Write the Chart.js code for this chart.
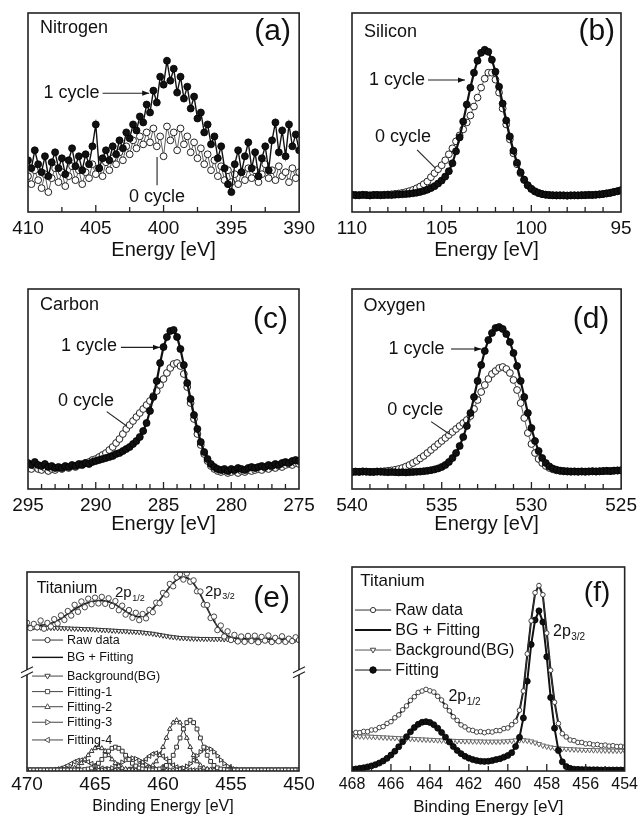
<!DOCTYPE html>
<html>
<head>
<meta charset="utf-8">
<script src="https://cdn.jsdelivr.net/npm/chart.js@4.4.0/dist/chart.umd.min.js"></script>
<style>
  html, body { margin: 0; padding: 0; background: #fff; overflow: hidden; width: 644px; height: 815px; }
  canvas { position: absolute; }
</style>
</head>
<body>
<canvas id="cA" width="322" height="262" style="left:0;top:0"></canvas>
<canvas id="cB" width="322" height="262" style="left:322px;top:0"></canvas>
<canvas id="cC" width="322" height="280" style="left:0;top:262px"></canvas>
<canvas id="cD" width="322" height="280" style="left:322px;top:262px"></canvas>
<canvas id="cE" width="322" height="277" style="left:0;top:540px"></canvas>
<canvas id="cF" width="322" height="277" style="left:322px;top:540px"></canvas>
<script>
const FONT = '"Liberation Sans", Arial, Helvetica, sans-serif';

// energy sampling of each scan (start, step, number of channels)
const grid = (start, step, n) => Array.from({ length: n }, (_, i) => +(start - step * i).toFixed(2));

// (a) Nitrogen, intensity in % of panel height
const nEnergy = grid(410, 0.25, 81);
const n1Cycle = [26,22,31,24,20,28,18,25,30,22,27,19,26,32,23,28,21,29,24,33,44,22,27,31,26,33,29,36,32,40,37,44,41,48,45,54,50,61,55,68,64,76,66,72,60,68,57,63,52,58,47,50,40,44,34,38,27,33,22,14,10,24,31,20,28,35,22,30,18,27,33,21,36,45,30,41,28,44,33,39,31];
const n0Cycle = [18,14,21,16,12,19,10,17,22,15,20,13,18,23,16,21,14,20,17,24,19,22,18,25,21,27,24,30,26,33,29,36,32,38,34,40,35,42,33,38,28,43,36,40,31,42,34,38,30,35,27,32,24,29,21,26,18,23,16,21,15,19,14,20,16,22,17,21,15,19,24,17,21,16,23,18,20,15,22,17,20];

// (b) Silicon
const siEnergy = grid(110, 0.2, 76);
const si1Cycle = [8.7,8.5,8.4,8.6,8.5,8.3,8.5,8.6,8.4,8.5,8.6,8.5,8.7,8.8,8.9,9.0,9.2,9.4,9.7,10.1,10.6,11.2,12.0,13.0,14.3,15.8,17.8,20.5,24.5,30.5,37.5,45.5,54,62.5,70,76,80,81.5,80.5,76.5,70.5,63,54.5,46,38,30.8,24.8,20,16.3,13.5,11.7,10.4,9.6,9.0,8.7,8.5,8.4,8.3,8.4,8.3,8.2,8.3,8.4,8.3,8.4,8.5,8.6,8.5,8.7,8.8,9.0,9.3,9.6,10.0,10.4,10.9];
const si0Cycle = [8.6,8.4,8.5,8.7,8.5,8.4,8.6,8.5,8.6,8.7,8.8,8.9,9.1,9.3,9.6,10.0,10.5,11.1,11.9,12.8,14.0,15.3,17.5,19.5,21.5,23.5,26,29,32,35.5,38.5,41.5,45,48.5,53,57.5,62.5,67,70,70,66.5,60,52,44,36.5,29.5,24,19.5,16,13.3,11.5,10.3,9.5,9.0,8.7,8.5,8.4,8.4,8.3,8.4,8.3,8.4,8.3,8.4,8.5,8.4,8.6,8.6,8.7,8.9,9.1,9.4,9.7,10.1,10.5,11.0];

// (c) Carbon
const cEnergy = grid(295, 0.25, 81);
const c1Cycle = [13,12,13.5,12,11.5,12.5,11,11.5,10.5,11,10.5,11.5,11,12,11.5,12.5,12,13,12.5,13.5,14,14.5,15,15.5,16,16.5,17.5,18,19,20,21,22.5,24,26,29,33,39,46,54,63,71,76,79,79.5,76,70,62,53,45,37,30,23.5,18.5,15,12.5,11,10,9.5,10,9,10,9.5,10.5,10,9.5,10.5,11,10.5,11,11.5,11,12,11.5,12.5,12,13,13.5,13,14,14.5,14];
const c0Cycle = [11,10,11.5,10,9.5,10.5,9,10,9.5,10.5,10,11,10.5,11.5,11,12,12.5,13,13.5,14.5,15,16,17,18,19.5,21,23,25,27.5,30,32,34,36,38,40,42,44,46.5,49,52,55,58,60.5,62.5,63,61.5,57.5,51,43,35,27.5,22,17.5,14,11.5,10,9,8.5,9,8,8.5,9,8,9,8.5,9.5,9,9.5,10,9.5,10.5,10,11,10.5,11.5,11,12,12.5,12,13,12.5];

// (d) Oxygen
const oEnergy = grid(540, 0.2, 76);
const o1Cycle = [8.5,8.7,8.6,8.8,8.7,8.6,8.5,8.7,8.6,8.5,8.4,8.5,8.4,8.3,8.4,8.3,8.4,8.5,8.6,8.7,8.9,9.1,9.4,9.8,10.3,11,12,13.5,15.5,18,21.5,26,31.5,38,46,54,62,69,74.5,78,80.5,81,80,77.5,73.5,68,61.5,54,46,38,30.5,24,19,15.5,13,11.3,10.2,9.6,9.2,9.0,8.9,8.8,8.8,8.7,8.8,8.7,8.8,8.9,8.8,8.9,9.0,9.1,9.0,9.2,9.3,9.4];
const o0Cycle = [8.4,8.6,8.5,8.7,8.6,8.5,8.6,8.7,8.8,8.9,9.1,9.3,9.6,10.0,10.5,11.2,12,13,14,15.3,16.5,18,19.5,21,22.5,24,25.5,27,28.5,30,31.5,33,34.5,36.5,40,44.5,48.5,52,55,57.5,59,60.5,61,60,58,54.5,49.5,43,35.5,28,22.5,18,15,13,11.5,10.5,9.8,9.3,9.0,8.8,8.7,8.6,8.7,8.6,8.7,8.6,8.7,8.8,8.7,8.8,8.9,9.0,8.9,9.1,9.2,9.3];

// (e) Titanium, broken axis: upper block = raw / BG, lower block = fitted components
const tiEnergyE = grid(470, 0.25, 81);
const tiRawE = [74.5,71.8,73.9,72.2,75.6,71.5,74.4,72.6,76.3,74.1,78.2,75.9,80.4,78.1,83.5,80.0,85.2,82.3,86.6,83.8,87.1,84.2,87.5,84.0,86.8,82.9,85.4,80.8,83.1,78.6,80.9,77.0,79.5,75.8,78.9,76.7,81.0,79.8,84.6,84.3,89.5,88.6,94.0,92.8,97.3,98.9,96.2,99.3,95.1,95.8,90.3,90.2,83.6,83.4,76.9,77.6,70.8,73.1,67.6,70.2,65.8,68.4,65.1,67.6,64.9,67.9,65.3,68.0,64.7,67.4,65.5,68.1,64.8,66.9,65.2,67.7,64.9,66.5,65.3,67.2,65.8];
const tiBgFitE = [73.0,73.0,73.1,73.2,73.3,73.5,73.8,74.2,74.8,75.6,76.6,77.8,79.0,80.2,81.3,82.3,83.2,84.0,84.6,85.1,85.4,85.6,85.6,85.4,85.0,84.4,83.6,82.6,81.5,80.3,79.2,78.3,77.7,77.5,77.8,78.6,79.9,81.6,83.6,85.8,88.1,90.4,92.6,94.5,96.0,97.0,97.4,97.1,96.0,94.2,91.7,88.6,85.2,81.7,78.3,75.3,72.7,70.6,69.0,67.9,67.2,66.8,66.6,66.5,66.4,66.4,66.3,66.3,66.3,66.2,66.2,66.2,66.2,66.1,66.1,66.1,66.1,66.0,66.0,66.0,66.0];
const tiBgE = [72.3,72.2,72.2,72.1,72.1,72.0,72.0,71.9,71.9,71.8,71.8,71.7,71.7,71.6,71.5,71.5,71.4,71.3,71.3,71.2,71.1,71.0,70.9,70.8,70.7,70.6,70.5,70.4,70.3,70.2,70.1,70.0,69.9,69.8,69.6,69.4,69.2,69.0,68.7,68.4,68.1,67.8,67.5,67.3,67.1,66.9,66.8,66.7,66.6,66.5,66.5,66.4,66.4,66.4,66.3,66.3,66.3,66.3,66.2,66.2,66.2,66.2,66.2,66.1,66.1,66.1,66.1,66.1,66.1,66.0,66.0,66.0,66.0,66.0,66.0,66.0,66.0,66.0,66.0,66.0,66.0];
const tiFit1E = [0.5,0.5,0.5,0.5,0.5,0.5,0.5,0.5,0.5,0.5,0.5,0.5,0.5,0.5,0.5,0.5,0.5,0.7,1.0,1.5,2.5,3.9,5.8,7.9,10,11.4,12,11.4,10,7.9,5.8,3.9,2.5,1.5,1.0,0.7,0.6,0.5,0.7,1.0,1.6,2.8,4.8,7.9,12,16.6,21.1,24.3,25.5,24.3,21.1,16.6,12,7.9,4.8,2.8,1.6,1.0,0.7,0.5,0.5,0.5,0.5,0.5,0.5,0.5,0.5,0.5,0.5,0.5,0.5,0.5,0.5,0.5,0.5,0.5,0.5,0.5,0.5,0.5,0.5];
const tiFit2E = [0.5,0.5,0.5,0.5,0.5,0.5,0.5,0.5,0.5,0.5,0.5,0.5,0.7,1.0,1.5,2.5,3.9,5.8,7.9,10,11.4,12,11.4,10,7.9,5.8,3.9,2.5,1.5,1.0,0.7,0.6,0.5,0.5,0.7,1.0,1.6,2.8,4.8,7.9,12,16.6,21.1,24.3,25.5,24.3,21.1,16.6,12,7.9,4.8,2.8,1.6,1.0,0.7,0.5,0.5,0.5,0.5,0.5,0.5,0.5,0.5,0.5,0.5,0.5,0.5,0.5,0.5,0.5,0.5,0.5,0.5,0.5,0.5,0.5,0.5,0.5,0.5,0.5,0.5];
const tiFit3E = [0.5,0.5,0.5,0.5,0.5,0.5,0.5,0.5,0.5,0.5,0.5,0.5,0.5,0.5,0.5,0.5,0.5,0.5,0.5,0.5,0.5,0.5,0.6,0.8,1.05,1.5,2.3,3.2,4.4,5.4,6.2,6.5,6.2,5.4,4.4,3.2,2.3,1.5,1.05,0.8,0.6,0.5,0.5,0.5,0.7,1.0,1.5,2.4,3.7,5.5,7.6,9.6,11,11.5,11,9.6,7.6,5.5,3.7,2.4,1.5,1.0,0.7,0.5,0.5,0.5,0.5,0.5,0.5,0.5,0.5,0.5,0.5,0.5,0.5,0.5,0.5,0.5,0.5,0.5,0.5];
const tiFit4E = [0.5,0.5,0.5,0.5,0.5,0.5,0.5,0.6,0.7,1.0,1.4,2.0,2.8,3.7,4.6,5.3,5.5,5.3,4.6,3.7,2.8,2.0,1.4,1.0,0.7,0.6,0.5,0.5,0.5,0.7,0.9,1.3,2.0,3.0,4.4,6.0,7.5,8.6,9.0,8.6,7.5,6.0,4.4,3.0,2.0,1.3,0.9,0.7,0.5,0.5,0.5,0.5,0.5,0.5,0.5,0.5,0.5,0.5,0.5,0.5,0.5,0.5,0.5,0.5,0.5,0.5,0.5,0.5,0.5,0.5,0.5,0.5,0.5,0.5,0.5,0.5,0.5,0.5,0.5,0.5,0.5];

// (f) Titanium
const tiEnergyF = grid(468, 0.2, 71);
const tiRawF = [18.3,18.9,18.8,19.4,19.3,20.1,20.2,21.3,21.8,23.3,24.2,26.1,27.5,30.0,31.9,34.6,36.4,38.5,39.2,40.0,39.3,38.7,36.6,34.8,31.8,29.5,26.6,24.8,22.6,21.6,20.2,19.9,19.1,19.3,18.8,19.3,19.1,19.8,19.8,20.8,21.1,22.7,24.4,29.8,39.2,57.4,73.6,87.4,90.9,86.4,67.6,49.4,33.7,23.3,18.3,16.7,15.2,14.9,14.0,14.0,13.3,13.4,12.8,13.0,12.5,12.7,12.2,12.4,12.0,12.1,11.8];
const tiBgFitF = [18.6,18.8,19.0,19.2,19.5,19.9,20.4,21.1,22.0,23.1,24.4,25.9,27.7,29.8,32.1,34.4,36.6,38.3,39.4,39.8,39.5,38.5,36.8,34.6,32.0,29.3,26.8,24.6,22.8,21.4,20.4,19.7,19.3,19.1,19.0,19.1,19.3,19.6,20.0,20.6,21.3,22.5,24.6,29.5,39.5,57,74,87,91.2,86,68,49,34,23,18.5,16.5,15.4,14.7,14.2,13.8,13.5,13.2,13.0,12.8,12.6,12.5,12.3,12.2,12.1,12.0,11.9];
const tiBgF = [17.2,17.1,17.0,16.9,16.9,16.8,16.7,16.6,16.5,16.4,16.3,16.2,16.1,16.0,15.9,15.8,15.7,15.6,15.5,15.4,15.3,15.2,15.1,15.0,14.9,14.9,14.8,14.7,14.7,14.6,14.6,14.5,14.5,14.5,14.4,14.4,14.4,14.4,14.4,14.5,14.6,14.8,15.0,15.1,15.1,14.9,14.5,13.9,13.2,12.5,12.0,11.6,11.3,11.1,10.9,10.8,10.7,10.6,10.5,10.4,10.3,10.3,10.2,10.2,10.1,10.1,10.0,10.0,10.0,9.9,9.9];
const tiFitF = [0.8,1.0,1.3,1.6,2.0,2.5,3.1,3.9,4.9,6.2,7.8,9.7,11.9,14.3,16.8,19.2,21.3,22.9,23.9,24.2,23.8,22.7,21.0,18.9,16.6,14.2,12.0,10.1,8.5,7.2,6.3,5.6,5.1,4.8,4.7,4.8,5.1,5.6,6.0,6.8,7.6,9.0,12.0,16.5,26,44,62,74,78.5,73,56,36,21,10,4.5,2.2,1.3,0.9,0.8,0.7,0.7,0.6,0.6,0.6,0.5,0.5,0.5,0.5,0.5,0.5,0.5];

const pts = (xs, ys) => ys.map((y, i) => ({ x: xs[i], y }));
const series = (xs, ys, o) => Object.assign({ data: pts(xs, ys), showLine: true, clip: 0, pointHoverRadius: 0 }, o);

// filled = 1 cycle (drawn on top), open = 0 cycle
const filledDot = { pointRadius: 3.5, pointBackgroundColor: '#111', pointBorderColor: '#000', pointBorderWidth: 0.8, borderColor: '#111', borderWidth: 2.2, order: 0 };
const openDot = { pointRadius: 3.4, pointBackgroundColor: '#fff', pointBorderColor: '#222', pointBorderWidth: 1, borderColor: '#333', borderWidth: 0.8, order: 1 };

function drawMarker(ctx, m, px, py) {
  ctx.save();
  ctx.translate(px, py);
  ctx.beginPath();
  const r = m.r;
  if (m.style === 'circle') ctx.arc(0, 0, r, 0, Math.PI * 2);
  else if (m.style === 'rect') ctx.rect(-r * 0.75, -r * 0.75, r * 1.5, r * 1.5);
  else {
    ctx.rotate((m.rot || 0) * Math.PI / 180);
    ctx.moveTo(0, -r); ctx.lineTo(r * 0.9, r * 0.6); ctx.lineTo(-r * 0.9, r * 0.6); ctx.closePath();
  }
  ctx.fillStyle = m.fill; ctx.fill();
  ctx.lineWidth = 1; ctx.strokeStyle = m.stroke; ctx.stroke();
  ctx.restore();
}

// frame, inner ticks, labels, arrows and the in-plot legends
function decorations(spec) {
  return {
    id: 'deco',
    afterDatasetsDraw(chart) {
      const { ctx, chartArea: a, scales: { x, y } } = chart;
      const X = v => x.getPixelForValue(v), Y = v => y.getPixelForValue(v);
      ctx.save();
      ctx.strokeStyle = '#222';
      ctx.lineWidth = 1.3;
      x.ticks.forEach(t => {
        const px = X(t.value);
        if (px < a.left + 2 || px > a.right - 2) return;
        const major = Math.abs(t.value % spec.major) < 1e-6;
        ctx.beginPath(); ctx.moveTo(px, a.bottom); ctx.lineTo(px, a.bottom - (major ? 7 : 5)); ctx.stroke();
      });
      ctx.lineWidth = 1.6;
      ctx.strokeRect(a.left, a.top, a.right - a.left, a.bottom - a.top);

      (spec.breaks || []).forEach(b => {
        const px = X(b.x), py = Y(b.y);
        ctx.fillStyle = '#fff';
        ctx.beginPath();
        ctx.moveTo(px - 6, py + 1); ctx.lineTo(px + 6, py - 5); ctx.lineTo(px + 6, py); ctx.lineTo(px - 6, py + 6); ctx.closePath();
        ctx.fill();
        ctx.lineWidth = 1.2;
        ctx.beginPath();
        ctx.moveTo(px - 6, py + 1); ctx.lineTo(px + 6, py - 5);
        ctx.moveTo(px - 6, py + 6); ctx.lineTo(px + 6, py);
        ctx.stroke();
      });

      ctx.fillStyle = '#111';
      ctx.lineWidth = 1.1;
      (spec.lines || []).forEach(l => {
        const x1 = X(l.x1), y1 = Y(l.y1), x2 = X(l.x2), y2 = Y(l.y2);
        ctx.beginPath(); ctx.moveTo(x1, y1); ctx.lineTo(x2, y2); ctx.stroke();
        if (l.head) {
          const ang = Math.atan2(y2 - y1, x2 - x1);
          ctx.save(); ctx.translate(x2, y2); ctx.rotate(ang);
          ctx.beginPath(); ctx.moveTo(0, 0); ctx.lineTo(-7, -2.6); ctx.lineTo(-7, 2.6); ctx.closePath(); ctx.fill();
          ctx.restore();
        }
      });

      const lg = spec.legend;
      if (lg) {
        lg.rows.forEach(r => {
          const py = Y(r.y), x1 = X(lg.x1), x2 = X(lg.x2);
          ctx.strokeStyle = r.color || '#444';
          ctx.lineWidth = r.lw || 1;
          ctx.beginPath(); ctx.moveTo(x1, py); ctx.lineTo(x2, py); ctx.stroke();
          if (r.marker) drawMarker(ctx, r.marker, (x1 + x2) / 2, py);
          ctx.fillStyle = '#111';
          ctx.font = `${lg.size}px ${FONT}`;
          ctx.textAlign = 'left'; ctx.textBaseline = 'middle';
          ctx.fillText(r.text, X(lg.xt), py + 0.5);
        });
      }

      ctx.fillStyle = '#111';
      ctx.textBaseline = 'middle';
      (spec.texts || []).forEach(t => {
        ctx.font = `${t.size}px ${FONT}`;
        ctx.textAlign = t.align || 'left';
        const px = X(t.x), py = Y(t.y);
        ctx.fillText(t.text, px, py);
        if (t.sub) {
          const w = ctx.measureText(t.text).width;
          ctx.font = `${Math.round(t.size * 0.62)}px ${FONT}`;
          ctx.textAlign = 'left';
          ctx.fillText(t.sub, px + w + 0.5, py + t.size * 0.32);
        }
      });
      ctx.restore();
    }
  };
}

function panel(id, area, ax, datasets, spec) {
  const cv = document.getElementById(id);
  return new Chart(cv, {
    type: 'scatter',
    data: { datasets },
    options: {
      responsive: false,
      animation: false,
      devicePixelRatio: 1,
      events: [],
      layout: { padding: { left: area[0], top: area[1], right: cv.width - area[2], bottom: 0 } },
      plugins: { legend: { display: false }, tooltip: { enabled: false } },
      scales: {
        x: {
          type: 'linear', reverse: true, min: ax.min, max: ax.max,
          grid: { display: false, drawTicks: false },
          border: { display: false },
          ticks: {
            stepSize: ax.step, autoSkip: false, maxRotation: 0, color: '#111', padding: ax.tickPad,
            font: { family: FONT, size: ax.tickSize, lineHeight: 1 },
            callback: v => (Math.abs(v % ax.major) < 1e-6 ? String(v) : '')
          },
          title: {
            display: true, text: ax.title, color: '#111',
            font: { family: FONT, size: ax.titleSize, lineHeight: 1 },
            padding: { top: 0, bottom: ax.titlePad }
          },
          afterFit: s => { s.height = cv.height - area[3]; }
        },
        y: { display: false, min: 0, max: 100 }
      }
    },
    plugins: [decorations(Object.assign({ major: ax.major }, spec))]
  });
}

const topAxis = { tickSize: 19, tickPad: 7, titleSize: 20, titlePad: 2, title: 'Energy [eV]', major: 5 };
const midAxis = { tickSize: 19, tickPad: 7, titleSize: 20, titlePad: 8, title: 'Energy [eV]', major: 5 };

panel('cA', [28, 13, 301, 212], Object.assign({ min: 390, max: 410, step: 2.5 }, topAxis), [
  series(nEnergy, n0Cycle, openDot),
  series(nEnergy, n1Cycle, Object.assign({}, filledDot, { borderWidth: 1.4 }))
], {
  texts: [
    { x: 409.12, y: 92.5, text: 'Nitrogen', size: 18 },
    { x: 390.6, y: 90.5, text: '(a)', size: 30, align: 'right' },
    { x: 404.73, y: 59.7, text: '1 cycle', size: 18, align: 'right' },
    { x: 400.48, y: 7.5, text: '0 cycle', size: 18, align: 'center' }
  ],
  lines: [
    { x1: 404.5, y1: 59.7, x2: 401.06, y2: 59.7, head: true },
    { x1: 400.48, y1: 13.5, x2: 400.48, y2: 27.6 }
  ]
});

panel('cB', [30, 13, 299, 212], Object.assign({ min: 95, max: 110, step: 1 }, topAxis), [
  series(siEnergy, si0Cycle, openDot),
  series(siEnergy, si1Cycle, filledDot)
], {
  texts: [
    { x: 109.33, y: 90.5, text: 'Silicon', size: 18 },
    { x: 95.33, y: 90.5, text: '(b)', size: 30, align: 'right' },
    { x: 105.93, y: 66.3, text: '1 cycle', size: 18, align: 'right' },
    { x: 107.16, y: 37.8, text: '0 cycle', size: 18, align: 'center' }
  ],
  lines: [
    { x1: 105.76, y1: 66.3, x2: 103.7, y2: 66.3, head: true },
    { x1: 106.37, y1: 31.2, x2: 105.35, y2: 22 }
  ]
});

panel('cC', [28, 27, 299, 227], Object.assign({ min: 275, max: 295, step: 1 }, midAxis), [
  series(cEnergy, c0Cycle, openDot),
  series(cEnergy, c1Cycle, filledDot)
], {
  texts: [
    { x: 294.11, y: 92, text: 'Carbon', size: 18 },
    { x: 275.81, y: 84.5, text: '(c)', size: 30, align: 'right' },
    { x: 288.43, y: 71.5, text: '1 cycle', size: 18, align: 'right' },
    { x: 290.72, y: 44, text: '0 cycle', size: 18, align: 'center' }
  ],
  lines: [
    { x1: 288.14, y1: 70.8, x2: 285.26, y2: 70.8, head: true },
    { x1: 289.19, y1: 38.7, x2: 287.72, y2: 31.5 }
  ]
});

panel('cD', [30, 27, 302, 227], Object.assign({ min: 525, max: 540, step: 1 }, midAxis), [
  series(oEnergy, o0Cycle, openDot),
  series(oEnergy, o1Cycle, filledDot)
], {
  texts: [
    { x: 539.36, y: 91.5, text: 'Oxygen', size: 18 },
    { x: 525.66, y: 84.5, text: '(d)', size: 30, align: 'right' },
    { x: 534.85, y: 70, text: '1 cycle', size: 18, align: 'right' },
    { x: 536.47, y: 39.5, text: '0 cycle', size: 18, align: 'center' }
  ],
  lines: [
    { x1: 534.48, y1: 70, x2: 532.79, y2: 70, head: true },
    { x1: 535.59, y1: 33.7, x2: 534.58, y2: 27.5 }
  ]
});

const fitStyle = (style, rot) => ({ pointStyle: style, pointRotation: rot, pointRadius: 2.7, pointBackgroundColor: '#fff', pointBorderColor: '#333', pointBorderWidth: 1, borderColor: '#333', borderWidth: 1, order: 3 });

panel('cE', [27, 32, 299, 231], { min: 450, max: 470, step: 5, major: 5, tickSize: 19, tickPad: 4.5, titleSize: 16, titlePad: 2, title: 'Binding Energy [eV]' }, [
  series(tiEnergyE, tiRawE, { pointRadius: 2.7, pointBackgroundColor: '#fff', pointBorderColor: '#333', pointBorderWidth: 0.9, borderColor: '#555', borderWidth: 0.8, order: 0 }),
  series(tiEnergyE, tiBgFitE, { pointRadius: 0, borderColor: '#111', borderWidth: 1.6, order: 1 }),
  series(tiEnergyE, tiBgE, { pointStyle: 'triangle', pointRotation: 180, pointRadius: 2.8, pointBackgroundColor: '#fff', pointBorderColor: '#333', pointBorderWidth: 1, borderColor: '#333', borderWidth: 1.2, order: 2 }),
  series(tiEnergyE, tiFit1E, fitStyle('rect', 0)),
  series(tiEnergyE, tiFit2E, fitStyle('triangle', 0)),
  series(tiEnergyE, tiFit3E, fitStyle('triangle', 90)),
  series(tiEnergyE, tiFit4E, fitStyle('triangle', -90))
], {
  texts: [
    { x: 469.29, y: 91.8, text: 'Titanium', size: 16 },
    { x: 463.53, y: 89.3, text: '2p', sub: '1/2', size: 15 },
    { x: 456.91, y: 90.1, text: '2p', sub: '3/2', size: 15 },
    { x: 450.66, y: 86.8, text: '(e)', size: 30, align: 'right' }
  ],
  breaks: [{ x: 470, y: 49.9 }, { x: 450, y: 49.9 }],
  legend: {
    x1: 469.63, x2: 467.35, xt: 467.06, size: 12.5,
    rows: [
      { y: 65.8, text: 'Raw data', color: '#333', marker: { style: 'circle', r: 2.6, fill: '#fff', stroke: '#333' } },
      { y: 57.1, text: 'BG + Fitting', color: '#111', lw: 1.4 },
      { y: 47.7, text: 'Background(BG)', marker: { style: 'tri', rot: 180, r: 3, fill: '#fff', stroke: '#444' } },
      { y: 39.9, text: 'Fitting-1', marker: { style: 'rect', r: 2.8, fill: '#fff', stroke: '#555' } },
      { y: 32.3, text: 'Fitting-2', marker: { style: 'tri', rot: 0, r: 3, fill: '#fff', stroke: '#555' } },
      { y: 24.5, text: 'Fitting-3', marker: { style: 'tri', rot: 90, r: 3, fill: '#fff', stroke: '#555' } },
      { y: 15.6, text: 'Fitting-4', marker: { style: 'tri', rot: -90, r: 3, fill: '#fff', stroke: '#555' } }
    ]
  }
});

panel('cF', [30, 27, 308, 231], { min: 454, max: 468, step: 1, major: 2, tickSize: 16, tickPad: 6, titleSize: 17, titlePad: 1.5, title: 'Binding Energy [eV]' }, [
  series(tiEnergyF, tiRawF, { pointRadius: 2.3, pointBackgroundColor: '#fff', pointBorderColor: '#333', pointBorderWidth: 0.9, borderColor: '#333', borderWidth: 1, order: 0 }),
  series(tiEnergyF, tiBgFitF, { pointRadius: 0, borderColor: '#111', borderWidth: 2, order: 1 }),
  series(tiEnergyF, tiFitF, { pointRadius: 3, pointBackgroundColor: '#111', pointBorderColor: '#000', pointBorderWidth: 0.8, borderColor: '#111', borderWidth: 2, order: 2 }),
  series(tiEnergyF, tiBgF, { pointStyle: 'triangle', pointRotation: 180, pointRadius: 3, pointBackgroundColor: '#fff', pointBorderColor: '#666', pointBorderWidth: 1, borderColor: '#666', borderWidth: 1.4, order: 3 })
], {
  texts: [
    { x: 467.58, y: 92.8, text: 'Titanium', size: 17 },
    { x: 454.74, y: 87.1, text: '(f)', size: 28, align: 'right' },
    { x: 457.68, y: 68.3, text: '2p', sub: '3/2', size: 16 },
    { x: 463.05, y: 36.4, text: '2p', sub: '1/2', size: 16 }
  ],
  legend: {
    x1: 467.85, x2: 465.99, xt: 465.78, size: 16,
    rows: [
      { y: 78.9, text: 'Raw data', color: '#333', marker: { style: 'circle', r: 2.6, fill: '#fff', stroke: '#333' } },
      { y: 69.1, text: 'BG + Fitting', color: '#111', lw: 2 },
      { y: 59.3, text: 'Background(BG)', color: '#555', marker: { style: 'tri', rot: 180, r: 3, fill: '#fff', stroke: '#444' } },
      { y: 49.5, text: 'Fitting', color: '#111', marker: { style: 'circle', r: 3.2, fill: '#111', stroke: '#000' } }
    ]
  }
});
</script>
</body>
</html>
